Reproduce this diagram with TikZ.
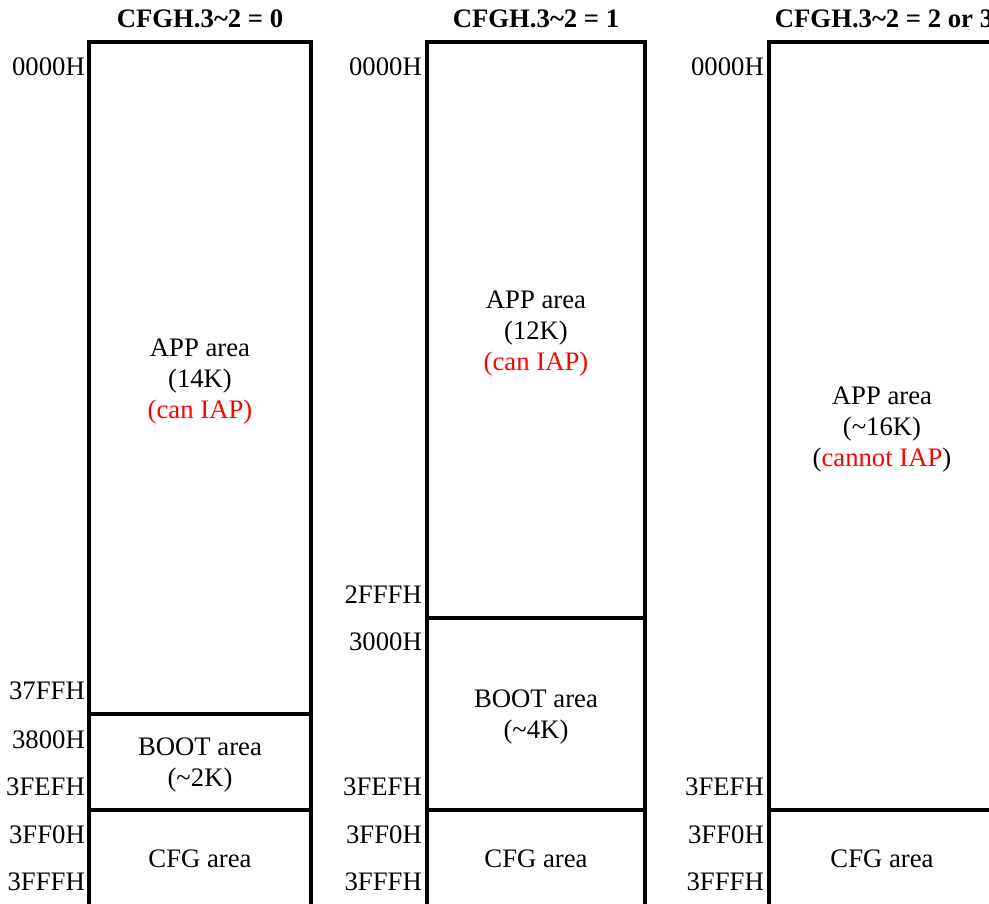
\documentclass[tikz,border=0pt]{standalone}
\usepackage{fontspec}
\setmainfont{Liberation Serif}
\begin{document}
\begin{tikzpicture}[x=1pt,y=-1pt,
 area/.style={draw, line width=4pt, inner sep=0pt},
 txt/.style={inner sep=0pt, align=center, font=\fontsize{26.7}{31}\selectfont},
 addr/.style={anchor=east, inner sep=0pt, font=\fontsize{26.7}{31}\selectfont},
 head/.style={inner sep=0pt, font=\fontsize{26.7}{31}\selectfont\bfseries}]
\clip (0,0) rectangle (989,904);
% column 1
\node[head] (h1) at (200,19) {CFGH.3\textasciitilde2 = 0};
\node[area, minimum width=222pt, minimum height=672pt] (app1) at (200,378) {};
\node[area, minimum width=222pt, minimum height=96pt] (boot1) at (200,762) {};
\node[area, minimum width=222pt, minimum height=98pt] (cfg1) at (200,859) {};
\node[txt] (app1t) at ([yshift=-4pt]app1.center) {APP area\\(14K)\\\textcolor{red}{(can IAP)}};
\node[txt] (boot1t) at ([yshift=-3pt]boot1.center) {BOOT area\\(\textasciitilde2K)};
\node[txt] (cfg1t) at (cfg1.center) {CFG area};
\node[addr] (a10) at (85,67) {0000H};
\node[addr] (a11) at (85,691) {37FFH};
\node[addr] (a12) at (85,740) {3800H};
\node[addr] (a13) at (85,787) {3FEFH};
\node[addr] (a14) at (85,835) {3FF0H};
\node[addr] (a15) at (85,882) {3FFFH};
% column 2
\node[head] (h2) at (536,19) {CFGH.3\textasciitilde2 = 1};
\node[area, minimum width=218pt, minimum height=576pt] (app2) at (536,330) {};
\node[area, minimum width=218pt, minimum height=192pt] (boot2) at (536,714) {};
\node[area, minimum width=218pt, minimum height=98pt] (cfg2) at (536,859) {};
\node[txt] (app2t) at ([yshift=-4pt]app2.center) {APP area\\(12K)\\\textcolor{red}{(can IAP)}};
\node[txt] (boot2t) at ([yshift=-3pt]boot2.center) {BOOT area\\(\textasciitilde4K)};
\node[txt] (cfg2t) at (cfg2.center) {CFG area};
\node[addr] (a20) at (422,67) {0000H};
\node[addr] (a21) at (422,595) {2FFFH};
\node[addr] (a22) at (422,642) {3000H};
\node[addr] (a23) at (422,787) {3FEFH};
\node[addr] (a24) at (422,835) {3FF0H};
\node[addr] (a25) at (422,882) {3FFFH};
% column 3
\node[head] (h3) at (884,19) {CFGH.3\textasciitilde2 = 2 or 3};
\node[area, minimum width=226pt, minimum height=768pt] (app3) at (882,426) {};
\node[area, minimum width=226pt, minimum height=98pt] (cfg3) at (882,859) {};
\node[txt] (app3t) at ([yshift=-4pt]app3.center) {APP area\\(\textasciitilde16K)\\(\textcolor{red}{cannot IAP})};
\node[txt] (cfg3t) at (cfg3.center) {CFG area};
\node[addr] (a30) at (764,67) {0000H};
\node[addr] (a33) at (764,787) {3FEFH};
\node[addr] (a34) at (764,835) {3FF0H};
\node[addr] (a35) at (764,882) {3FFFH};
\end{tikzpicture}
\end{document}
